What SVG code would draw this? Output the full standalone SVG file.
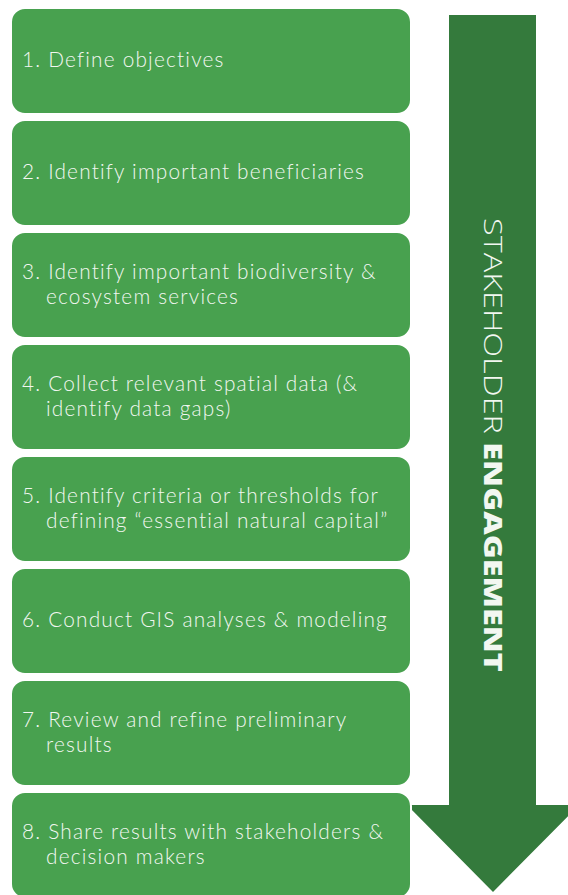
<svg xmlns="http://www.w3.org/2000/svg" width="568" height="895" viewBox="0 0 568 895">
<style>
.box{fill:#48a14f;stroke:#ffffff;stroke-width:2}
.t{font-family:Lato,"Open Sans",sans-serif;font-size:20.8px;font-weight:300;letter-spacing:1.2px;fill:#f2f7f1}
.arrow{fill:#347a3c}
.v{font-family:"Open Sans","Liberation Sans",sans-serif;font-size:25px;fill:#f2f7f1}
</style>
<rect width="568" height="895" fill="#ffffff"/>
<g id="connectors">
<g id="arrow">
<path class="arrow" d="M449,15 H536 V805 H579 L493,892 L407,805 H449 Z"/>
<text class="v" transform="translate(484,218) rotate(90)" textLength="454" lengthAdjust="spacingAndGlyphs"><tspan font-weight="300">STAKEHOLDER </tspan><tspan font-weight="800">ENGAGEMENT</tspan></text>
</g>
</g>
<g id="n1"><rect class="box" x="11" y="8" width="400" height="106" rx="14"/><text class="t" x="22" y="67">1. Define objectives</text></g>
<g id="n2"><rect class="box" x="11" y="120" width="400" height="106" rx="14"/><text class="t" x="22" y="179">2. Identify important beneficiaries</text></g>
<g id="n3"><rect class="box" x="11" y="232" width="400" height="106" rx="14"/><text class="t" x="22" y="279">3. Identify important biodiversity &amp;</text><text class="t" x="46" y="304">ecosystem services</text></g>
<g id="n4"><rect class="box" x="11" y="344" width="400" height="106" rx="14"/><text class="t" x="22" y="391">4. Collect relevant spatial data (&amp;</text><text class="t" x="46" y="416">identify data gaps)</text></g>
<g id="n5"><rect class="box" x="11" y="456" width="400" height="106" rx="14"/><text class="t" x="22" y="503">5. Identify criteria or thresholds for</text><text class="t" x="46" y="528">defining “essential natural capital”</text></g>
<g id="n6"><rect class="box" x="11" y="568" width="400" height="106" rx="14"/><text class="t" x="22" y="627">6. Conduct GIS analyses &amp; modeling</text></g>
<g id="n7"><rect class="box" x="11" y="680" width="400" height="106" rx="14"/><text class="t" x="22" y="727">7. Review and refine preliminary</text><text class="t" x="46" y="752">results</text></g>
<g id="n8"><rect class="box" x="11" y="792" width="400" height="106" rx="14"/><text class="t" x="22" y="839">8. Share results with stakeholders &amp;</text><text class="t" x="46" y="864">decision makers</text></g>
</svg>
